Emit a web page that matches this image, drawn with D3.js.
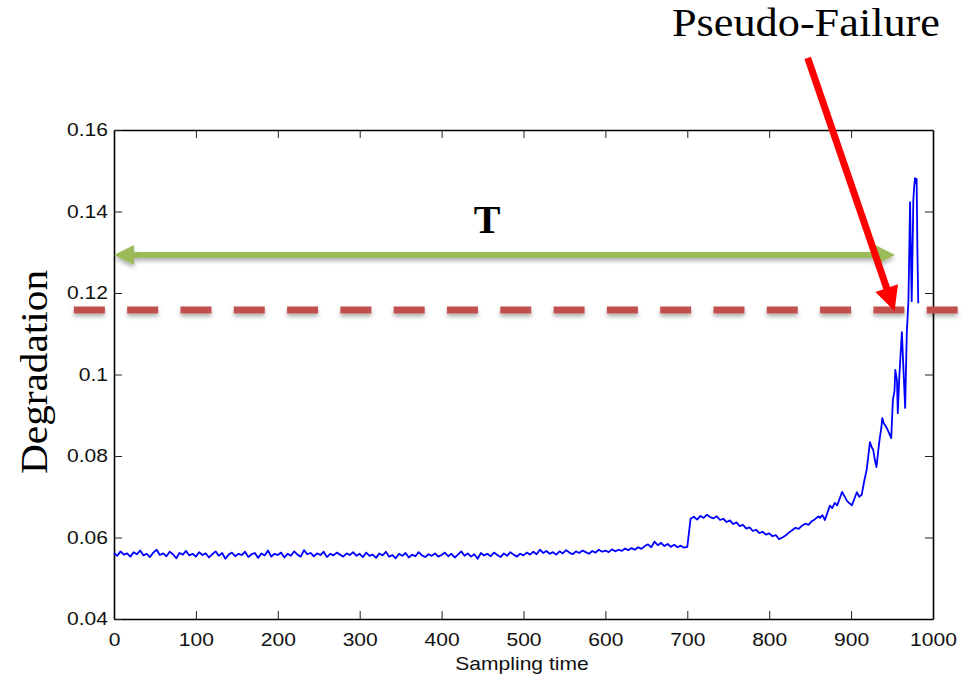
<!DOCTYPE html>
<html>
<head>
<meta charset="utf-8">
<script src="https://cdn.jsdelivr.net/npm/d3@7"></script>
<style>
  body { margin: 0; background: #fff; }
  svg { display: block; }
</style>
</head>
<body>
<svg id="chart" width="964" height="685"></svg>
<script>
// ---- data ----
const xTicks = [0, 100, 200, 300, 400, 500, 600, 700, 800, 900, 1000];
const yTicks = [0.04, 0.06, 0.08, 0.10, 0.12, 0.14, 0.16];
const yTickLabels = ["0.04", "0.06", "0.08", "0.1", "0.12", "0.14", "0.16"];

// degradation readings every 4 sampling steps, t = 0 .. 856
const sampleStep = 4;
const degradation = [
  0.0562, 0.0555, 0.0566, 0.0558, 0.0561, 0.0553, 0.0564, 0.0559, 0.0568, 0.0556, 0.0560, 0.0552, 0.0563, 0.0570, 0.0557, 0.0561, 0.0554, 0.0565, 0.0559, 0.0549, 0.0562, 0.0558, 0.0567, 0.0556, 0.0560,
  0.0553, 0.0564, 0.0557, 0.0561, 0.0551, 0.0559, 0.0566, 0.0555, 0.0562, 0.0548, 0.0558, 0.0563, 0.0554, 0.0560, 0.0557, 0.0565, 0.0552, 0.0559, 0.0562, 0.0550, 0.0561, 0.0556, 0.0568, 0.0553, 0.0560,
  0.0557, 0.0563, 0.0551, 0.0560, 0.0555, 0.0566, 0.0558, 0.0553, 0.0569, 0.0559, 0.0562, 0.0554, 0.0561, 0.0557, 0.0565, 0.0552, 0.0560, 0.0556, 0.0563, 0.0558, 0.0553, 0.0561, 0.0557, 0.0564, 0.0555,
  0.0560, 0.0552, 0.0563, 0.0555, 0.0558, 0.0550, 0.0561, 0.0556, 0.0565, 0.0553, 0.0557, 0.0549, 0.0560, 0.0555, 0.0562, 0.0551, 0.0558, 0.0554, 0.0564, 0.0556, 0.0552, 0.0559, 0.0555, 0.0561, 0.0553,
  0.0557, 0.0563, 0.0554, 0.0560, 0.0551, 0.0558, 0.0566, 0.0555, 0.0561, 0.0553, 0.0559, 0.0548, 0.0562, 0.0556, 0.0560, 0.0554, 0.0563, 0.0557, 0.0552, 0.0561, 0.0555, 0.0564, 0.0558, 0.0553, 0.0560,
  0.0556, 0.0563, 0.0558, 0.0565, 0.0559, 0.0570, 0.0562, 0.0567, 0.0560, 0.0564, 0.0558, 0.0566, 0.0561, 0.0569, 0.0563, 0.0559, 0.0566, 0.0562, 0.0568, 0.0564, 0.0560, 0.0567, 0.0563, 0.0570, 0.0565,
  0.0568, 0.0564, 0.0571, 0.0566, 0.0570, 0.0567, 0.0573, 0.0569, 0.0574, 0.0570, 0.0576, 0.0572, 0.0579, 0.0583, 0.0576, 0.0590, 0.0581, 0.0587, 0.0579, 0.0584, 0.0577, 0.0582, 0.0576, 0.0580, 0.0575,
  0.0577, 0.0646, 0.0651, 0.0644, 0.0653, 0.0648, 0.0656, 0.0650, 0.0647, 0.0652, 0.0643, 0.0646, 0.0638, 0.0642, 0.0633, 0.0637, 0.0628, 0.0631, 0.0622, 0.0625, 0.0616, 0.0619, 0.0611, 0.0614, 0.0607,
  0.0610, 0.0603, 0.0606, 0.0596, 0.0600, 0.0605, 0.0612, 0.0618, 0.0624, 0.0621, 0.0629, 0.0634, 0.0631, 0.0640, 0.0645
];

// denser readings for the final, fast-growing stretch
const tailTime = [
  860, 862, 865, 868, 871, 874, 877, 880, 883, 886, 889, 892, 895, 898, 901, 904, 907, 910, 913, 916,
  919, 921, 923, 925, 927, 929, 931, 933, 935, 937, 938, 940, 943, 946, 949, 950, 951, 953, 954, 956,
  957, 959, 962, 964, 966, 967, 968, 970, 971, 972, 973, 974, 975, 976, 977, 978, 979, 980, 981, 982
];
const tailDegradation = [
  0.0652, 0.0648, 0.0655, 0.0643, 0.0660, 0.0678, 0.0672, 0.0685, 0.0679, 0.0695, 0.0712, 0.0701, 0.0690, 0.0684, 0.0679, 0.0695, 0.0711, 0.0700, 0.0705, 0.0738,
  0.0766, 0.0800, 0.0834, 0.0822, 0.0815, 0.0790, 0.0773, 0.0810, 0.0844, 0.0870, 0.0893, 0.0880, 0.0871, 0.0858, 0.0844, 0.0890, 0.0937, 0.0960, 0.1011, 0.0986,
  0.0905, 0.1000, 0.1104, 0.1010, 0.0918, 0.1010, 0.1102, 0.1180, 0.1300, 0.1423, 0.1300, 0.1180, 0.1300, 0.1428, 0.1460, 0.1482, 0.1470, 0.1480, 0.1300, 0.1175
];

// annotations (data units)
const failureThreshold = 0.1158;
const thresholdSpan = [-49, 1031];
const horizonLevel = 0.1293;
const horizonSpan = [0, 953.6];
const pointerStart = [847, 0.1777];
const pointerTip = [953, 0.1156];

// ---- layout ----
const W = 964, H = 685;
const svg = d3.select("#chart");
const x = d3.scaleLinear().domain([0, 1000]).range([114, 933]);
const y = d3.scaleLinear().domain([0.04, 0.16]).range([619, 130]);

const series = degradation.map((v, i) => ({ t: i * sampleStep, v }))
  .concat(tailTime.map((t, i) => ({ t, v: tailDegradation[i] })));

const defs = svg.append("defs");
const shadow = defs.append("filter").attr("id", "soft-shadow")
  .attr("filterUnits", "userSpaceOnUse")
  .attr("x", 0).attr("y", 0).attr("width", W).attr("height", H);
shadow.append("feDropShadow").attr("dx", 0).attr("dy", 3).attr("stdDeviation", 2)
  .attr("flood-color", "#000").attr("flood-opacity", 0.3);

const tickFont = "'Liberation Sans', Arial, Helvetica, sans-serif";
const serifFont = "'Liberation Serif', 'Times New Roman', serif";
const stretch = 1.17;

// axes: box with inward ticks on all sides
const axisB = svg.append("g").attr("transform", `translate(0,${y.range()[0]})`)
  .call(d3.axisBottom(x).tickValues(xTicks).tickSizeInner(-8).tickSizeOuter(0).tickPadding(14).tickFormat(d3.format("d")));
const axisT = svg.append("g").attr("transform", `translate(0,${y.range()[1]})`)
  .call(d3.axisTop(x).tickValues(xTicks).tickSizeInner(-8).tickSizeOuter(0).tickFormat(""));
const axisL = svg.append("g").attr("transform", `translate(${x.range()[0]},0)`)
  .call(d3.axisLeft(y).tickValues(yTicks).tickSizeInner(-8).tickSizeOuter(0).tickPadding(6)
    .tickFormat((d, i) => yTickLabels[i]));
const axisR = svg.append("g").attr("transform", `translate(${x.range()[1]},0)`)
  .call(d3.axisRight(y).tickValues(yTicks).tickSizeInner(-8).tickSizeOuter(0).tickFormat(""));

[axisB, axisT, axisL, axisR].forEach(g => {
  g.select(".domain").attr("stroke", "#000").attr("stroke-width", 1.6);
  g.selectAll(".tick line").attr("stroke", "#222").attr("stroke-width", 1);
  g.selectAll(".tick text").attr("font-family", tickFont).attr("font-size", 18).attr("fill", "#111");
});
axisB.selectAll(".tick text").attr("transform", `scale(${stretch},1)`);
axisL.selectAll(".tick text").attr("x", -6 / stretch).attr("transform", `scale(${stretch},1)`);
// drop the ticks that would sit on the frame corners
[axisT, axisR].forEach(g => g.selectAll(".tick line").filter((d, i, n) => i === 0 || i === n.length - 1).remove());

// degradation curve
svg.append("path")
  .datum(series)
  .attr("fill", "none")
  .attr("stroke", "#0000ff")
  .attr("stroke-width", 1.8)
  .attr("stroke-linejoin", "round")
  .attr("d", d3.line().x(d => x(d.t)).y(d => y(d.v)));

// axis titles
svg.append("text")
  .attr("transform", `translate(522,670) scale(${stretch},1)`)
  .attr("text-anchor", "middle")
  .attr("font-family", tickFont).attr("font-size", 18).attr("fill", "#111")
  .text("Sampling time");

svg.append("text")
  .attr("transform", "translate(47,372) rotate(-90)")
  .attr("text-anchor", "middle")
  .attr("font-family", serifFont).attr("font-size", 38).attr("fill", "#000")
  .attr("textLength", 204).attr("lengthAdjust", "spacingAndGlyphs")
  .text("Degradation");

// failure threshold (dashed)
svg.append("line")
  .attr("x1", x(thresholdSpan[0])).attr("x2", x(thresholdSpan[1]))
  .attr("y1", y(failureThreshold)).attr("y2", y(failureThreshold))
  .attr("stroke", "#c0504d").attr("stroke-width", 7)
  .attr("stroke-dasharray", "31 22.3")
  .attr("filter", "url(#soft-shadow)");

// helper: triangle head pointing from `from` to `tip`
function headPoints(tip, from, len, halfW) {
  const dx = tip[0] - from[0], dy = tip[1] - from[1];
  const L = Math.hypot(dx, dy), ux = dx / L, uy = dy / L;
  const bx = tip[0] - ux * len, by = tip[1] - uy * len;
  return [[tip[0], tip[1]], [bx - uy * halfW, by + ux * halfW], [bx + uy * halfW, by - ux * halfW]];
}

// horizon T (double-headed arrow)
const hy = y(horizonLevel);
const hx0 = x(horizonSpan[0]), hx1 = x(horizonSpan[1]);
const horizon = svg.append("g").attr("filter", "url(#soft-shadow)");
horizon.append("line")
  .attr("x1", hx0 + 16).attr("x2", hx1 - 16).attr("y1", hy).attr("y2", hy)
  .attr("stroke", "#9bbb59").attr("stroke-width", 6);
horizon.append("polygon").attr("fill", "#9bbb59")
  .attr("points", headPoints([hx0, hy], [hx1, hy], 20, 10).join(" "));
horizon.append("polygon").attr("fill", "#9bbb59")
  .attr("points", headPoints([hx1, hy], [hx0, hy], 20, 10).join(" "));

svg.append("text")
  .attr("x", 487).attr("y", 233)
  .attr("text-anchor", "middle")
  .attr("font-family", serifFont).attr("font-size", 40).attr("font-weight", "bold").attr("fill", "#000")
  .text("T");

// pointer to the pseudo-failure crossing
const ps = [x(pointerStart[0]), y(pointerStart[1])];
const pt = [x(pointerTip[0]), y(pointerTip[1])];
const head = headPoints(pt, ps, 24, 12);
const plen = Math.hypot(pt[0] - ps[0], pt[1] - ps[1]);
svg.append("line")
  .attr("x1", ps[0]).attr("y1", ps[1])
  .attr("x2", pt[0] - (pt[0] - ps[0]) / plen * 20).attr("y2", pt[1] - (pt[1] - ps[1]) / plen * 20)
  .attr("stroke", "#ff0000").attr("stroke-width", 7);
svg.append("polygon").attr("fill", "#ff0000").attr("points", head.join(" "));

svg.append("text")
  .attr("x", 806).attr("y", 36)
  .attr("text-anchor", "middle")
  .attr("font-family", serifFont).attr("font-size", 40).attr("fill", "#000")
  .attr("textLength", 268).attr("lengthAdjust", "spacingAndGlyphs")
  .text("Pseudo-Failure");
</script>
</body>
</html>
